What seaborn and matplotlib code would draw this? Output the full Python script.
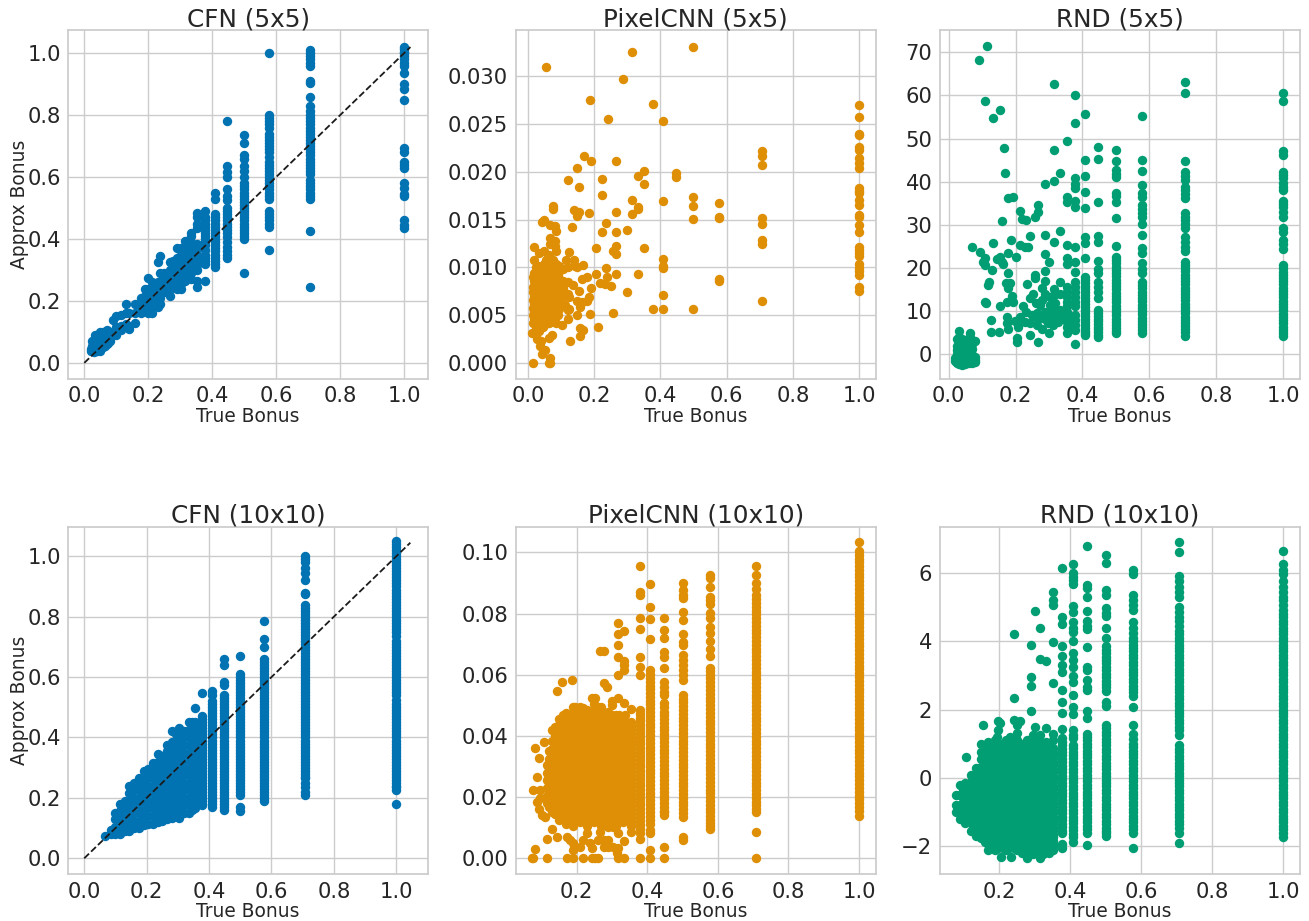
import matplotlib
matplotlib.use('Agg')
import matplotlib.pyplot as plt
import pandas as pd
import seaborn as sns

# each entry: true bonus, [approx bonus values read at that true bonus]
cfn_5 = [
    (1.0, [1.02, 1.015, 1.005, 1.0, .99, .98, .97, .96, .935, .9, .885, .85, .695, .68, .65, .64, .63, .58, .565, .545, .54, .46, .445, .435]),
    (.707, [1.01, 1.0, .99, .98, .97, .96, .91, .905, .86, .83, .815, .8, .79, .78, .77, .76, .75, .74, .73, .72, .71, .7, .69, .68, .67, .66, .65, .64, .63, .62, .61, .59, .58, .57, .56, .55, .54, .53, .425, .245]),
    (.577, [1.0, .8, .79, .78, .77, .76, .74, .73, .72, .71, .7, .69, .68, .665, .65, .64, .63, .62, .61, .6, .59, .58, .57, .56, .55, .54, .53, .49, .48, .47, .46, .45, .44, .365]),
    (.5, [.735, .71, .67, .66, .635, .62, .6, .58, .57, .56, .55, .54, .53, .52, .51, .5, .49, .48, .47, .46, .45, .44, .43, .42, .41, .4, .29]),
    (.447, [.78, .635, .615, .6, .56, .54, .525, .5, .49, .48, .47, .46, .45, .44, .43, .42, .405, .39, .375, .36, .35, .34]),
    (.408, [.55, .53, .48, .47, .46, .45, .44, .43, .42, .41, .4, .39, .38, .37, .36, .35, .34, .33, .32, .31]),
    (.378, [.49, .47, .46, .45, .44, .43, .42, .41, .4, .39, .38, .365, .35, .34, .33, .32, .265]),
    (.354, [.485, .47, .45, .435, .385, .37, .35, .335, .315, .3, .265, .245]),
    (.333, [.42, .41, .39, .37, .35, .33, .31, .29, .27]),
    (.316, [.395, .375, .36, .34, .32, .3, .28, .265]),
    (.302, [.37, .35, .33, .31, .29, .27, .255, .24]),
    (.289, [.37, .34, .32, .3, .28, .26, .24]),
    (.277, [.33, .31, .29, .27, .25]),
    (.267, [.325, .3, .28, .26, .24, .215]),
    (.25, [.29, .27, .25, .23]),
    (.236, [.345, .29, .25, .23, .21, .19]),
    (.229, [.325, .26, .24, .22, .2, .18]),
    (.213, [.26, .24, .22, .2, .18, .16]),
    (.2, [.275, .24, .22, .2, .18, .16]),
    (.19, [.24, .215, .19]),
    (.177, [.21, .18, .16]),
    (.16, [.19, .16, .13]),
    (.14, [.16, .12, .11]),
    (.13, [.19, .16, .125]),
    (.115, [.155, .12, .105]),
    (.1, [.15, .115, .09]),
    (.09, [.14, .09]),
    (.08, [.07, .085, .1]),
    (.075, [.065, .08, .095]),
    (.07, [.06, .075, .09, .105]),
    (.065, [.055, .07, .085, .1]),
    (.06, [.05, .065, .08, .095, .1]),
    (.055, [.05, .065, .08, .095]),
    (.05, [.04, .055, .07, .085, .1]),
    (.045, [.045, .06, .075, .09]),
    (.04, [.04, .055, .07, .085]),
    (.035, [.045, .06, .075, .09]),
    (.03, [.035, .05, .065, .075]),
    (.025, [.04, .055, .07]),
    (.02, [.04, .045]),
]

pixelcnn_5 = [
    (1.0, [.02695, .0257, .024, .0238, .0226, .0223, .0214, .0209, .0204, .0183, .018, .0178, .017, .0165, .0155, .0153, .0144, .0137, .0121, .0118, .0115, .0112, .0104, .0099, .0096, .0092, .008, .0075]),
    (.707, [.0222, .0217, .0207, .0152, .0145, .0129, .0124, .0065]),
    (.577, [.0167, .0153, .0152, .0088, .0086]),
    (.5, [.0331, .0174, .0164, .0151, .0056]),
    (.447, [.0199, .0195]),
    (.408, [.0253, .0169, .0109, .0101, .0099, .0071, .0057]),
    (.378, [.0271, .0057]),
    (.352, [.0201, .0187, .012]),
    (.333, [.0196, .0163, .0161, .0093]),
    (.315, [.0325, .017, .0156]),
    (.3, [.0139, .0074]),
    (.288, [.0297]),
    (.266, [.0211, .0158, .0137, .0122, .0114, .0093]),
    (.258, [.0052]),
    (.256, [.0117]),
    (.25, [.0081]),
    (.241, [.0255]),
    (.238, [.009]),
    (.235, [.0146, .0099]),
    (.233, [.0083]),
    (.224, [.0192, .0176, .0137]),
    (.218, [.0084]),
    (.211, [.0038]),
    (.207, [.012, .0093]),
    (.192, [.0078]),
    (.191, [.0211]),
    (.188, [.0275, .0051]),
    (.184, [.0157, .0069]),
    (.179, [.009, .0065]),
    (.169, [.0217]),
    (.167, [.0035]),
    (.165, [.0103]),
    (.163, [.0088]),
    (.162, [.0064]),
    (.157, [.0059, .0037, .0028]),
    (.154, [.0184, .0158, .0075]),
    (.149, [.01, .005]),
    (.148, [.0204, .0154]),
    (.147, [.0065]),
    (.143, [.0102]),
    (.139, [.016]),
    (.138, [.0108]),
    (.137, [.0082]),
    (.134, [.0142]),
    (.128, [.0023]),
    (.124, [.0116, .0069, .0057]),
    (.122, [.0046]),
    (.12, [.0191, .01, .0085, .0072, .0055]),
    (.114, [.0108]),
    (.112, [.0061]),
    (.105, [.0098, .0086, .0078, .007, .0062]),
    (.102, [.004]),
    (.095, [.0102, .0096, .0088, .008, .0072, .0064, .0056]),
    (.092, [.005]),
    (.09, [.0092, .0084, .0076, .0068, .006]),
    (.085, [.0138, .0117, .0104, .0098, .009, .0082, .0074, .0066, .0058, .005, .0042]),
    (.082, [.0143, .0128, .0122]),
    (.08, [.0098, .009, .0082, .0074, .0066, .0058, .005]),
    (.077, [.0164, .0161]),
    (.075, [.0108, .0102, .0094, .0086, .0078, .007, .0062, .0054, .0046]),
    (.074, [.0029]),
    (.07, [.0106, .0098, .009, .0082, .0074, .0066, .0058, .005]),
    (.068, [.0144, .0131, .0]),
    (.066, [.0124, .0005]),
    (.065, [.0113, .0106, .0098, .009, .0082, .0074, .0066, .0058, .005, .0042]),
    (.064, [.0026]),
    (.063, [.0]),
    (.06, [.011, .0102, .0094, .0086, .0078, .007, .0062, .0054, .0046]),
    (.056, [.031]),
    (.055, [.0108, .01, .0092, .0084, .0076, .0068, .006, .0052, .0044]),
    (.053, [.0014]),
    (.05, [.015, .0117, .0104, .0096, .0088, .008, .0072, .0064, .0056, .0048, .004]),
    (.045, [.0102, .0094, .0086, .0078, .007, .0062, .0054, .0046, .0038]),
    (.043, [.0009]),
    (.042, [.0147]),
    (.041, [.0023]),
    (.04, [.0098, .009, .0082, .0074, .0066, .0058, .005, .0042]),
    (.038, [.0018]),
    (.035, [.0115, .0098, .009, .0082, .0074, .0066, .0058, .005, .0042, .0034]),
    (.03, [.0102, .0094, .0086, .0078, .007, .0062, .0054, .0046, .0038]),
    (.029, [.0025]),
    (.025, [.01, .0094, .0086, .0078, .007, .0062, .0054, .0046, .0038]),
    (.02, [.0121, .0108, .0094, .0086, .0078, .007, .0062, .0054, .0046]),
    (.015, [.009, .008, .0074, .0066, .0058, .005, .0042, .0]),
    (.012, [.0031]),
]

rnd_5 = [
    (1.0, [60.5, 58.8, 47.2, 46.2, 42.3, 41.6, 40.8, 39.8, 38.9, 38.1, 35.5, 34.9, 34.1, 33.1, 31.9, 29.4, 28.4, 26.5, 25.5, 24.5, 20.7, 19.2, 17.7, 16.2, 14.7, 13.2, 11.7, 10.2, 8.7, 7.2, 5.7, 4.2]),
    (1.0, [19.95, 18.45, 16.95, 15.45, 13.95, 12.45, 10.95, 9.45, 7.95, 6.45, 4.95]),
    (.706, [63.2, 60.5, 44.7, 42.3, 41.4, 40.4, 38.9, 38.1, 37.1, 36.2, 32.7, 31.9, 31.1, 30.2, 29.4, 27.1, 26.1, 25, 24, 21.5, 20, 18.5, 17, 15.5, 14, 12.5, 11, 9.5, 8, 6.5, 5.3, 4.2]),
    (.706, [20.75, 19.25, 17.75, 16.25, 14.75, 13.25, 11.75, 10.25, 8.75, 7.25, 5.9]),
    (.577, [55.3, 45, 42.4, 39.2, 37.3, 36.5, 34.6, 33.6, 32.7, 31.9, 30.2, 27.6, 24.6, 23.6, 21.1, 19.9, 18.8, 16.8, 15.3, 13.8, 12.3, 10.8, 9.3, 7.8, 6.3, 4.9]),
    (.577, [16, 14.5, 13, 11.5, 10, 8.5, 7, 5.6]),
    (.5, [47.4, 44.7, 42.7, 41.8, 41, 37.5, 36.6, 35.4, 31.5, 25.1, 22.6, 21.1, 19.6, 18.1, 16.6, 15.1, 13.6, 12.1, 10.6, 9.1, 7.6, 6.1, 4.9]),
    (.5, [21.8, 20.3, 18.8, 17.3, 15.8, 14.3, 12.8, 11.3, 9.8, 8.3, 6.8, 5.5]),
    (.447, [48, 45.2, 35.2, 27.5, 26.1, 21.6, 19.9, 18.9, 16.8, 15.7, 14.5, 13, 10.3, 9, 7.7, 6.4, 5.1, 4.1]),
    (.447, [9.7, 8.3, 7, 5.8, 4.6]),
    (.408, [55.8, 45, 41.3, 37.6, 34, 27.3, 25.7, 22.4, 18, 16.6, 15.2, 13.8, 12.4, 11, 9.6, 8.2, 6.8, 5.4, 4.4]),
    (.408, [17.3, 15.9, 14.5, 13.1, 11.7, 10.3, 8.9, 7.5, 6.1, 4.9]),
    (.378, [60.2, 53.6, 40.8, 39.6, 38.5, 35.6, 34.1, 25, 21.5, 19, 16.8, 15.7, 14.5, 13.4, 12.2, 11.1, 9.1, 8, 6.8, 5.6, 2.3]),
    (.354, [49.5, 36.4, 35.2, 25.3, 22.3, 20.9, 15.7, 14.5, 13.4, 12.2, 11.1, 9.9, 8.7, 7.6, 6.4, 4.9]),
    (.338, [8.7]),
    (.333, [28.6, 42, 16.8, 14.1, 10.3]),
    (.328, [7.6]),
    (.318, [11.8, 8.7]),
    (.316, [62.7, 47.4, 40.2, 26.1, 15.1, 13.8]),
    (.313, [10.3, 6.8]),
    (.303, [13.2, 11.4, 8.7]),
    (.301, [21.3, 4.9]),
    (.298, [7.2]),
    (.288, [39.4, 27.6, 23.2, 19.3, 17.1, 14, 9.9, 8.3]),
    (.278, [15.5, 12.6, 9.1, 5.8]),
    (.273, [11.4]),
    (.268, [8.3]),
    (.266, [34.6, 33, 2.9]),
    (.263, [9.5, 6.8]),
    (.261, [12]),
    (.258, [31.8, 18.5, 17.8]),
    (.251, [14]),
    (.248, [9.1]),
    (.243, [27.5, 13, 7.2, 4.5]),
    (.238, [25]),
    (.235, [16.2]),
    (.232, [9.9]),
    (.231, [31.1]),
    (.228, [24.8, 7.6]),
    (.223, [11.3]),
    (.218, [31.3]),
    (.213, [33.2, 25.4, 8.7, 7.6]),
    (.208, [6.4]),
    (.205, [3.7, 2.9]),
    (.2, [22.5]),
    (.198, [7.8]),
    (.193, [12.2]),
    (.191, [36.5]),
    (.188, [13.6]),
    (.185, [26.5]),
    (.183, [16.5]),
    (.178, [36.2, 18.8, 15.3, 6]),
    (.176, [23.6]),
    (.175, [12.2, 8.6, 7.3]),
    (.17, [16.6]),
    (.169, [42.1]),
    (.166, [47.8]),
    (.163, [20.9]),
    (.16, [31]),
    (.158, [21.5]),
    (.153, [22.6]),
    (.152, [56.6, 11.3]),
    (.149, [5.1]),
    (.143, [22.2]),
    (.133, [54.7, 25.8]),
    (.13, [19.6]),
    (.126, [5.3]),
    (.125, [8]),
    (.121, [16.8]),
    (.117, [16.1]),
    (.116, [71.4]),
    (.112, [12]),
    (.109, [22.3, 20.6, 12.2]),
    (.108, [58.8]),
    (.104, [21.5]),
    (.093, [23.8]),
    (.09, [68.2]),
    (.078, [3, -.5, -1.2, -1.8]),
    (.071, [25]),
    (.07, [2.5, 1.2, -.2, -1.2, -1.9]),
    (.065, [5, 4]),
    (.06, [3.8, 2.5, 1, -.2, -1.2, -2]),
    (.05, [3, 1.5, 0, -1, -2.2]),
    (.04, [3.5, 2, .5, -.8, -2.4]),
    (.03, [5.4, 4, 2.5, 1, 0, -1, -2.2]),
    (.025, [3.5, 2, 1, 0, -1, -2]),
    (.018, [-.8, -1.5]),
]

cfn_10 = [
    (1.0, [1.05, 1.03, 1.01, .99, .97, .95, .93, .91, .89, .87, .85, .83, .81, .79, .77, .75, .735, .72, .7, .68, .66, .64, .62, .6, .58, .56, .54, .51, .49, .47, .45, .43, .41, .39, .37, .35, .33, .31, .29, .27, .25, .235, .225, .18]),
    (1.0, [1.04, 1.02, 1.0, .98, .96, .94, .92, .9, .88, .86, .84, .82, .8, .78, .76, .71, .69, .67, .65, .63, .61, .59, .57, .55, .525, .5, .48, .46, .44, .42, .4, .38, .36, .34, .32, .3, .28, .26, .24]),
    (.707, [1.0, .99, .98, .96, .945, .92, .88, .875, .84, .82, .8, .78, .76, .74, .72, .7, .68, .66, .64, .62, .6, .58, .56, .54, .52, .5, .48, .46, .44, .42, .4, .38, .36, .34, .32, .3, .28, .265, .25, .235, .22, .21]),
    (.707, [.83, .81, .79, .77, .75, .73, .71, .69, .67, .65, .63, .61, .59, .57, .55, .53, .51, .49, .47, .45, .43, .41, .39, .37, .35, .33, .31, .29, .27]),
    (.577, [.787, .727, .7, .66, .64, .62, .6, .58, .56, .54, .52, .5, .48, .46, .44, .42, .4, .38, .36, .34, .32, .3, .28, .26, .24, .22, .2, .19]),
    (.577, [.65, .63, .61, .59, .57, .55, .53, .51, .49, .47, .45, .43, .41, .39, .37, .35, .33, .31, .29, .27, .25, .23, .21]),
    (.5, [.671, .61, .59, .57, .55, .53, .51, .49, .47, .45, .43, .41, .39, .37, .35, .33, .31, .29, .27, .25, .23, .21, .17, .155]),
    (.5, [.6, .58, .56, .54, .52, .5, .48, .46, .44, .42, .4, .38, .36, .34, .32, .3, .28, .26, .24, .22]),
    (.447, [.66, .64, .585, .575, .54, .52, .5, .48, .46, .44, .42, .4, .38, .36, .34, .32, .3, .28, .26, .24, .22, .2, .18, .17, .16]),
    (.447, [.53, .51, .49, .47, .45, .43, .41, .39, .37, .35, .33, .31, .29, .27, .25, .23, .21, .19]),
    (.408, [.555, .54, .52, .51, .5, .48, .46, .44, .42, .4, .38, .36, .34, .32, .3, .28, .26, .24, .22, .2, .18, .17]),
    (.408, [.49, .47, .45, .43, .41, .39, .37, .35, .33, .31, .29, .27, .25, .23, .21, .19]),
    (.378, [.548, .47, .45, .43, .41, .39, .37, .35, .33, .31, .29, .27, .25, .23, .21, .19, .175]),
    (.378, [.46, .44, .42, .4, .38, .36, .34, .32, .3, .28, .26, .24, .22, .2, .18]),
    (.354, [.497, .45, .43, .41, .39, .37, .35, .33, .31, .29, .27, .25, .23, .21, .19, .165]),
    (.354, [.44, .42, .4, .38, .36, .34, .32, .3, .28, .26, .24, .22, .2, .18]),
    (.345, [.45, .435, .41, .385, .36, .335, .31, .285, .26, .235, .21, .185, .16]),
    (.335, [.45, .425, .4, .375, .35, .325, .3, .275, .25, .225, .2, .175, .15]),
    (.32, [.42, .4, .375, .35, .325, .3, .275, .25, .225, .2, .175, .15]),
    (.305, [.43, .385, .36, .335, .31, .285, .26, .235, .21, .185, .16, .135]),
    (.295, [.41, .39, .365, .34, .315, .29, .265, .24, .215, .19, .165, .14]),
    (.28, [.42, .385, .36, .335, .31, .285, .26, .235, .21, .185, .16, .135]),
    (.265, [.375, .355, .33, .305, .28, .255, .23, .205, .18, .155, .13]),
    (.25, [.34, .325, .3, .275, .25, .225, .2, .175, .15, .125]),
    (.235, [.345, .32, .295, .27, .245, .22, .195, .17, .145, .12]),
    (.22, [.315, .29, .265, .24, .215, .19, .165, .14, .115]),
    (.205, [.295, .265, .24, .215, .19, .165, .14, .115]),
    (.19, [.29, .26, .235, .21, .185, .16, .135, .11]),
    (.175, [.265, .25, .225, .2, .175, .15, .125, .1]),
    (.16, [.25, .225, .2, .175, .15, .125, .1]),
    (.145, [.24, .215, .19, .165, .14, .115, .09]),
    (.13, [.19, .165, .14, .115, .09]),
    (.115, [.18, .155, .13, .105, .08]),
    (.1, [.15, .13, .105, .08]),
    (.085, [.095, .08]),
    (.065, [.075]),
]

# middle of the PixelCNN (10x10) cloud
pixelcnn_10_core = [.0131, .0157, .0183, .0209, .0235, .0261, .0287, .0313, .0339, .0365, .0391, .0417, .0443, .0469]

pixelcnn_10 = [
    (1.0, [.1033, .1005, .098, .0955, .093, .0905, .088, .0855, .083, .0805, .078, .0755, .073, .0705, .068, .0655, .063, .0605, .058, .0555, .053, .0505, .048, .0455, .043, .0405, .038, .0355, .033, .0305, .028, .0255, .023, .0205, .018, .0155, .0137]),
    (1.0, [.0993, .0968, .0943, .0918, .0893, .0868, .0843, .0818, .0793, .0768, .0743, .0718, .0693, .0668, .0643, .0618, .0593, .0568, .0543, .0518, .0493, .0468, .0443, .0418, .0393, .0368, .0343, .0318, .0293, .0268, .0243, .0218, .0193, .0168]),
    (.707, [.0957, .0926, .0901, .088, .086, .0835, .081, .0785, .076, .0735, .071, .0685, .066, .0635, .061, .0585, .056, .0535, .051, .0485, .046, .0435, .041, .0385, .036, .0335, .031, .0285, .026, .0235, .021, .0185, .016, .015, .0086, .0]),
    (.707, [.0848, .0823, .0798, .0773, .0748, .0723, .0698, .0673, .0648, .0623, .0598, .0573, .0548, .0523, .0498, .0473, .0448, .0423, .0398, .0373, .0348, .0323, .0298, .0273, .0248, .0223, .0198, .0173]),
    (.577, [.0926, .0915, .0886, .0855, .0844, .0831, .0801, .0784, .0757, .0735, .071, .0685, .066, .0621, .06, .0575, .055, .0525, .05, .0475, .045, .0425, .04, .0375, .035, .0325, .03, .0275, .025, .0225, .02, .0175, .015, .0125, .0105, .0095]),
    (.577, [.0612, .0588, .0563, .0538, .0513, .0488, .0463, .0438, .0413, .0388, .0363, .0338, .0313, .0288, .0263, .0238, .0213, .0188, .0163, .0138, .0115]),
    (.5, [.0899, .0877, .086, .085, .0806, .0779, .0733, .0708, .0697, .0664, .0648, .0632, .0615, .0599, .0583, .0534, .051, .0485, .046, .0435, .041, .0385, .036, .0335, .031, .0285, .026, .0235, .021, .0185, .016, .0136, .0071, .006]),
    (.5, [.0522, .0498, .0473, .0448, .0423, .0398, .0373, .0348, .0323, .0298, .0273, .0248, .0223, .0198, .0173, .0148]),
    (.447, [.0786, .0746, .0719, .0675, .0659, .0621, .0577, .0561, .0545, .0534, .0507, .048, .0455, .043, .0405, .038, .0355, .033, .0305, .028, .0255, .023, .0205, .018, .0155, .0142, .0036, .0]),
    (.447, [.0494, .0468, .0443, .0418, .0393, .0368, .0343, .0318, .0293, .0268, .0243, .0218, .0193, .0168, .015]),
    (.408, [.0898, .0821, .0781, .0716, .0615, .059, .0565, .054, .0515, .049, .0465, .044, .0415, .039, .0365, .034, .0315, .029, .0265, .024, .0215, .019, .0165, .014, .0114, .0093, .0082, .0029, .0]),
    (.408, [.0603, .0578, .0553, .0528, .0503, .0478, .0453, .0428, .0403, .0378, .0353, .0328, .0303, .0278, .0253, .0228, .0203, .0178, .0153, .0127]),
    (.378, [.0957, .0871, .086, .0786, .0749, .0659, .0626, .0599, .0485, .046, .0435, .041, .0385, .036, .0335, .031, .0285, .026, .0235, .021, .0185, .016, .0135, .011, .0082, .0063, .0]),
    (.378, [.0473, .0448, .0423, .0398, .0373, .0348, .0323, .0298, .0273, .0248, .0223, .0198, .0173, .0148, .0123, .0096]),
    (.354, [.0488, .0447, .042, .0395, .037, .0345, .032, .0295, .027, .0245, .022, .0195, .017, .0145, .012, .0087]),
    (.354, [.0433, .0408, .0383, .0358, .0333, .0308, .0283, .0258, .0233, .0208, .0183, .0158, .0133, .0105]),
    (.345, [.0125, .0151, .0177, .0203, .0229, .0255, .0281, .0307, .0333, .0359, .0385, .0411, .044]),
    (.338, pixelcnn_10_core),
    (.334, [.0744, .0646, .0632, .0615, .0507, .0058, .0]),
    (.33, [.0118, .0144, .017, .0196, .0222, .0248, .0274, .03, .0326, .0352, .0378, .0404, .043, .0456]),
    (.32, pixelcnn_10_core),
    (.318, [.0033]),
    (.316, [.077, .0733, .0697, .0659, .0599, .0525, .0082, .0]),
    (.315, [.0016]),
    (.31, [.0105, .0131, .0157, .0183, .0209, .0235, .0261, .0287, .0313, .0339, .0365, .0391, .0417, .0443, .0469]),
    (.304, [.0103, .0038]),
    (.301, [.0515, .0501]),
    (.3, pixelcnn_10_core),
    (.29, [.0118, .0144, .017, .0196, .0222, .0248, .0274, .03, .0326, .0352, .0378, .0404, .043, .0456, .048, .0103, .006, .0038]),
    (.287, [.0561]),
    (.28, pixelcnn_10_core),
    (.277, [.0679]),
    (.276, [.0572, .006, .0038]),
    (.27, [.0105, .0131, .0157, .0183, .0209, .0235, .0261, .0287, .0313, .0339, .0365, .0391, .0417, .0443, .0469, .0495]),
    (.266, [.0679, .0087]),
    (.261, [.0496, .006, .0]),
    (.26, pixelcnn_10_core),
    (.252, [.0523, .0]),
    (.25, [.0118, .0144, .017, .0196, .0222, .0248, .0274, .03, .0326, .0352, .0378, .0404, .043, .0456, .0482, .0505]),
    (.242, [.0525, .0033, .0]),
    (.24, pixelcnn_10_core),
    (.238, [.0049]),
    (.23, [.0105, .0131, .0157, .0183, .0209, .0235, .0261, .0287, .0313, .0339, .0365, .0391, .0417, .0443, .0469, .0485, .0082]),
    (.22, pixelcnn_10_core),
    (.219, [.049, .006, .0]),
    (.21, [.0118, .0144, .017, .0196, .0222, .0248, .0274, .03, .0326, .0352, .0378, .0404, .043, .0456, .048, .0496, .0038]),
    (.2, pixelcnn_10_core),
    (.195, [.0496]),
    (.191, [.0049]),
    (.19, [.0105, .0131, .0157, .0183, .0209, .0235, .0261, .0287, .0313, .0339, .0365, .0391, .0417, .0443, .0469, .0495]),
    (.189, [.0029, .0]),
    (.186, [.0583]),
    (.181, [.006]),
    (.18, pixelcnn_10_core),
    (.172, [.0071, .0]),
    (.17, [.0112, .0138, .0164, .019, .0216, .0242, .0268, .0294, .032, .0346, .0372, .0398, .0424, .045, .0474]),
    (.16, pixelcnn_10_core),
    (.159, [.0578]),
    (.15, [.0125, .0151, .0177, .0203, .0229, .0255, .0281, .0307, .0333, .0359, .0385, .0411, .0437, .0455]),
    (.143, [.0548, .0069]),
    (.14, [.0144, .017, .0196, .0222, .0248, .0274, .03, .0326, .0352, .0378, .0404, .043]),
    (.131, [.0097]),
    (.13, [.015, .0176, .0202, .0228, .0254, .028, .0306, .0332, .0358, .0384, .042]),
    (.122, [.0168, .0194, .022, .0246, .0272, .0298, .0324, .035]),
    (.117, [.0062, .0]),
    (.115, [.018, .0205, .023, .0255, .028, .0305]),
    (.11, [.0136]),
    (.108, [.0381]),
    (.101, [.0142]),
    (.096, [.0223, .0196]),
    (.094, [.0327]),
    (.093, [.016]),
    (.087, [.0267, .0185]),
    (.082, [.036, .0032]),
    (.077, [.0]),
    (.076, [.0223]),
    (.074, [.0]),
]

# middle of the RND (10x10) cloud
rnd_10_core = [.9, .67, .44, .21, -.02, -.25, -.48, -.71, -.94, -1.17, -1.4, -1.63, -1.86, -2.05]

rnd_10 = [
    (1.0, [6.64, 6.25, 6.09, 5.97, 5.75, 5.6, 5.45, 5.3, 5.2, 5.05, 4.9, 4.7, 4.5, 4.3, 4.1, 3.9, 3.7, 3.5, 3.3, 3.1, 2.9, 2.7, 2.5, 2.3, 2.1, 1.9, 1.7, 1.5, 1.3, 1.1, .9, .7, .5, .3, .1, -.1, -.3, -.5, -.7, -.9, -1.1, -1.3, -1.5, -1.72]),
    (1.0, [4.8, 4.6, 4.4, 4.2, 4.0, 3.8, 3.6, 3.4, 3.2, 3.0, 2.8, 2.6, 2.4, 2.2, 2.0, 1.8, 1.6, 1.4, 1.2, 1.0, .8, .6, .4, .2, 0, -.2, -.4, -.6, -.8, -1.0, -1.2, -1.4, -1.6]),
    (.707, [6.9, 6.62, 5.9, 5.75, 5.6, 5.45, 5.3, 5.0, 4.85, 4.7, 4.6, 4.45, 4.3, 4.1, 3.9, 3.7, 3.5, 3.3, 3.1, 2.9, 2.7, 2.5, 2.3, 2.1, 1.9, 1.7, 1.5, 1.25, .95, .75, .55, .35, .15, -.05, -.25, -.45, -.65, -.85, -1.05, -1.25, -1.45, -1.6, -1.9]),
    (.707, [4.2, 4.0, 3.8, 3.6, 3.4, 3.2, 3.0, 2.8, 2.6, 2.4, 2.2, 2.0, 1.8, 1.6, 1.4, .85, .65, .45, .25, .05, -.15, -.35, -.55, -.75, -.95, -1.15, -1.35]),
    (.577, [6.09, 5.97, 5.35, 5.2, 5.05, 4.9, 4.57, 4.4, 4.25, 4.08, 3.9, 3.7, 3.5, 3.3, 3.1, 2.9, 2.7, 2.5, 2.4, 2.07, 1.55, 1.3, 1.15, 1.0, .8, .6, .4, .2, 0, -.2, -.4, -.6, -.8, -1.0, -1.2, -1.4, -1.6, -2.05]),
    (.577, [4.0, 3.8, 3.6, 3.4, 3.2, 3.0, 2.8, 2.6, .9, .7, .5, .3, .1, -.1, -.3, -.5, -.7, -.9, -1.1, -1.3, -1.5]),
    (.5, [6.53, 6.28, 5.5, 5.35, 4.97, 4.82, 4.74, 4.4, 4.08, 3.85, 3.65, 3.45, 3.25, 3.05, 2.85, 2.65, 2.53, 2.23, 2.1, 1.55, 1.35, 1.15, .95, .75, .55, .35, .15, -.05, -.25, -.45, -.65, -.85, -1.05, -1.25, -1.45, -1.6, -1.7]),
    (.5, [3.75, 3.55, 3.35, 3.15, 2.95, 2.75, 1.45, 1.25, 1.05, .85, .65, .45, .25, .05, -.15, -.35, -.55, -.75, -.95, -1.15, -1.35, -1.55]),
    (.447, [6.78, 5.65, 5.55, 5.28, 4.89, 4.6, 4.45, 4.35, 3.83, 3.26, 3.16, 2.87, 2.67, 2.57, 1.96, 1.74, 1.3, 1.1, .9, .7, .5, .3, .1, -.1, -.3, -.5, -.7, -.9, -1.1, -1.3, -1.5, -1.96]),
    (.447, [1.2, 1.0, .8, .6, .4, .2, 0, -.2, -.4, -.6, -.8, -1.0, -1.2, -1.4, -1.6]),
    (.408, [6.27, 5.99, 5.87, 5.78, 5.68, 5.03, 4.84, 4.57, 4.4, 4.28, 4.02, 3.65, 3.45, 3.26, 2.97, 2.82, 2.42, 2.09, 1.87, 1.4, 1.26, 1.16, .97, .77, .57, .37, .17, -.03, -.23, -.43, -.63, -.83, -1.03, -1.23, -1.43, -1.63, -1.86]),
    (.408, [.87, .67, .47, .27, .07, -.13, -.33, -.53, -.73, -.93, -1.13, -1.33, -1.53, -1.73]),
    (.378, [6.14, 4.7, 4.5, 3.86, 3.58, 3.31, 3.11, 2.58, 2.21, 1.89, 1.42, 1.16, .96, .76, .56, .36, .16, -.04, -.24, -.44, -.64, -.84, -1.04, -1.24, -1.44, -1.6, -1.93, -2.06]),
    (.378, [1.06, .86, .66, .46, .26, .06, -.14, -.34, -.54, -.74, -.94, -1.14, -1.34, -1.54]),
    (.353, [5.43, 5.2, 5.06, 3.99, 2.77, 1.3, 1.1, .87, .67, .47, .27, .07, -.13, -.33, -.53, -.73, -.93, -1.13, -1.33, -1.53, -1.73, -1.93, -2.1]),
    (.353, [.77, .57, .37, .17, -.03, -.23, -.43, -.63, -.83, -1.03, -1.23, -1.43, -1.63, -1.83, -2]),
    (.345, rnd_10_core),
    (.34, [.85, .62, .39, .16, -.07, -.3, -.53, -.76, -.99, -1.22, -1.45, -1.68, -1.91, -2.2]),
    (.333, [3.43, 1.46, 1.05]),
    (.332, rnd_10_core),
    (.325, [1.0, .77, .54, .31, .08, -.15, -.38, -.61, -.84, -1.07, -1.3, -1.53, -1.76, -1.99, -2.22]),
    (.317, rnd_10_core),
    (.316, [4.4, 3.48, 1.25, -2.35]),
    (.31, [1.1, .87, .64, .41, .18, -.05, -.28, -.51, -.74, -.97, -1.2, -1.43, -1.66, -1.89, -2.12]),
    (.302, rnd_10_core),
    (.301, [4.87, 1.48]),
    (.295, [1.25, 1.0, .77, .54, .31, .08, -.15, -.38, -.61, -.84, -1.07, -1.3, -1.53, -1.76, -1.99, -2.22]),
    (.289, [3.89, 2.95, 2.69, 1.96]),
    (.287, rnd_10_core),
    (.28, [1.1, .87, .64, .41, .18, -.05, -.28, -.51, -.74, -.97, -1.2, -1.43, -1.66, -1.89, -2.12, -2.35]),
    (.272, rnd_10_core),
    (.265, [1.0, .77, .54, .31, .08, -.15, -.38, -.61, -.84, -1.07, -1.3, -1.53, -1.76, -1.99, -2.2]),
    (.259, [1.68]),
    (.257, rnd_10_core),
    (.25, [1.55, 1.31, 1.1, .87, .64, .41, .18, -.05, -.28, -.51, -.74, -.97, -1.2, -1.43, -1.66, -1.89, -2.12]),
    (.242, [4.22, 2.35, 1.7]),
    (.242, rnd_10_core),
    (.235, [1.0, .77, .54, .31, .08, -.15, -.38, -.61, -.84, -1.07, -1.3, -1.53, -1.76, -1.99, -2.3]),
    (.231, [1.21]),
    (.227, rnd_10_core),
    (.22, [1.1, .87, .64, .41, .18, -.05, -.28, -.51, -.74, -.97, -1.2, -1.43, -1.66, -1.89, -2.12]),
    (.212, rnd_10_core),
    (.205, [1.0, .77, .54, .31, .08, -.15, -.38, -.61, -.84, -1.07, -1.3, -1.53, -1.76, -1.99, -2.3]),
    (.203, [1.6]),
    (.198, [1.67, 1.4]),
    (.197, rnd_10_core),
    (.195, [1.21]),
    (.19, [1.1, .87, .64, .41, .18, -.05, -.28, -.51, -.74, -.97, -1.2, -1.43, -1.66, -1.89, -2.12]),
    (.18, rnd_10_core),
    (.17, [1.05, .82, .59, .36, .13, -.1, -.33, -.56, -.79, -1.02, -1.25, -1.48, -1.71, -1.94, -2.1]),
    (.16, [.9, .67, .44, .21, -.02, -.25, -.48, -.71, -.94, -1.17, -1.4, -1.63, -1.86]),
    (.154, [1.56]),
    (.15, [1.0, .77, .54, .31, .08, -.15, -.38, -.61, -.84, -1.07, -1.3, -1.53, -1.76]),
    (.142, [.2, -.03, -.26, -.49, -.72, -.95, -1.18, -1.41, -1.6]),
    (.135, [.3, .07, -.16, -.39, -.62, -.85, -1.08, -1.31, -1.54, -1.7]),
    (.127, [-.02, -.25, -.48, -.71, -.94, -1.17, -1.4]),
    (.12, [.1, -.13, -.36, -.59, -.82, -1.05, -1.28, -1.55]),
    (.112, [-.28, -.5, -.75, -1, -1.2]),
    (.108, [.61]),
    (.105, [-.15, -.4, -.63, -.86, -1.09, -1.32]),
    (.098, [-.35, -.6, -.85, -1.1]),
    (.09, [-.2, -.5, -.8, -1.05, -1.2]),
    (.078, [-.5, -.8, -1]),
]

titles = ['CFN (5x5)', 'PixelCNN (5x5)', 'RND (5x5)', 'CFN (10x10)', 'PixelCNN (10x10)', 'RND (10x10)']
panels = [cfn_5, pixelcnn_5, rnd_5, cfn_10, pixelcnn_10, rnd_10]
diagonal_ends = {0: 1.02, 3: 1.045}
rnd_5_ticks = [0, 10, 20, 30, 40, 50, 60, 70]
bonus_ticks = [0.0, 0.2, 0.4, 0.6, 0.8, 1.0]

x_limits = [(-.05, 1.075), (-.037, 1.05), (-.027, 1.05), (-.051, 1.1016), (.027, 1.047), (.033, 1.046)]
y_limits = [(-.052, 1.074), (-.00167, .0348), (-5.7, 75.1), (-.052, 1.098), (-.0051, .1084), (-2.81, 7.35)]

# axes boxes in pixels: left, top, right, bottom
boxes = [(68.3, 30.3, 428, 379), (515.6, 30.3, 875.7, 379), (939.7, 30.3, 1299.7, 379),
         (68.3, 526.7, 428, 874), (515.6, 526.7, 875.7, 874), (939.7, 526.7, 1299.7, 874)]

sns.set_theme(style='whitegrid')
colors = sns.color_palette('colorblind')[:3] * 2

W, H = 1309, 921
fig = plt.figure(figsize=(W / 100, H / 100), dpi=100)

for i, panel in enumerate(panels):
    l, t, r, b = boxes[i]
    ax = fig.add_axes([l / W, 1 - b / H, (r - l) / W, (b - t) / H])
    df = pd.DataFrame(panel, columns=['true', 'approx']).explode('approx')
    df['approx'] = df['approx'].astype(float)
    sns.scatterplot(data=df, x='true', y='approx', color=colors[i], s=46, linewidth=0, ax=ax, zorder=2)
    if i in diagonal_ends:
        end = diagonal_ends[i]
        ax.plot([0, end], [0, end], color='k', linestyle='--', linewidth=1.3, zorder=3)
    ax.set_xticks(bonus_ticks)
    if i == 2:
        ax.set_yticks(rnd_5_ticks)
    ax.set_xlim(x_limits[i])
    ax.set_ylim(y_limits[i])
    ax.set_title(titles[i], fontsize=17.8, pad=3)
    ax.set_xlabel('True Bonus', fontsize=13.4, labelpad=0.5)
    ax.set_ylabel('Approx Bonus' if i % 3 == 0 else '', fontsize=13.4, labelpad=-1)
    ax.tick_params(labelsize=15.2, length=0, pad=5.4)

plt.savefig('out.png', dpi=100)
